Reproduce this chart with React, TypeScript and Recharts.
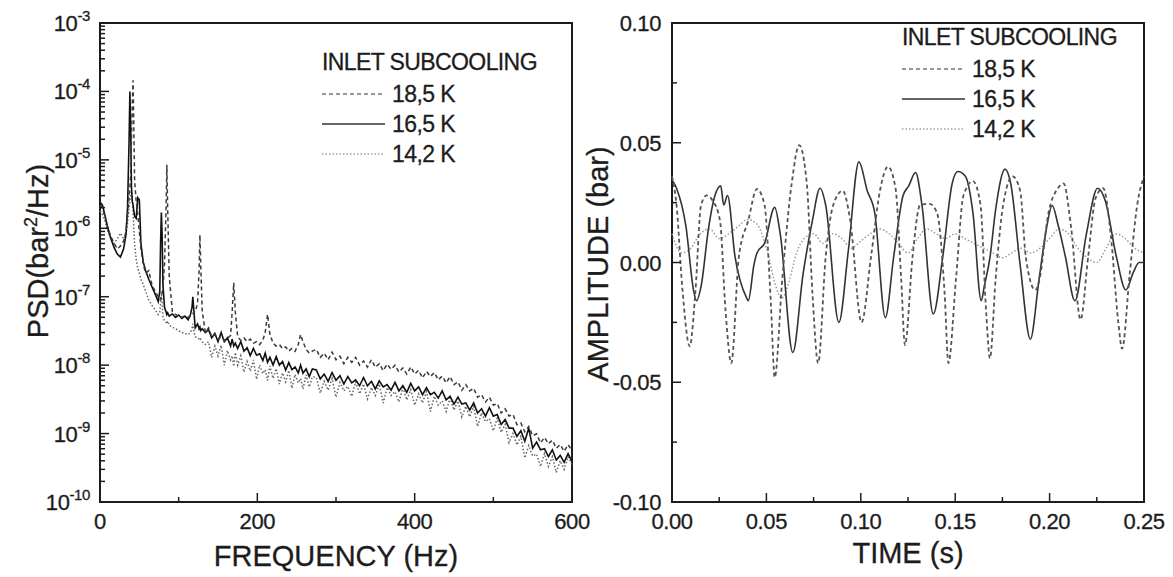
import { LineChart, Line, XAxis, YAxis, ReferenceArea } from 'recharts'

const FONT = '"Liberation Sans", Arial, Helvetica, sans-serif'
const INK = '#1c1c1c'
const TICK_GAP = 10

// ---------- left panel: power spectral density ----------
const psdFreq = [
  0, 3, 6, 10, 14, 18, 22, 26, 30, 33,
  35, 37, 38, 39, 40, 41, 42, 43, 44, 46,
  48, 50, 52, 55, 58, 62, 66, 70, 74, 76,
  77, 78, 79, 80, 82, 84, 85, 86, 88, 92,
  96, 100, 104, 108, 112, 115, 117, 118, 119, 121,
  124, 126, 127, 128, 130, 134,
  138, 142, 146, 150, 154, 158, 162, 166,
  168, 170, 172, 175,
  179, 183, 187, 191, 195, 199, 203, 207,
  210, 213, 216,
  220, 224, 228, 232, 236, 240, 244, 248, 252,
  255, 258, 262, 266, 270,
  275, 280, 285, 290, 295, 300, 305, 310, 315, 320,
  325, 330, 335, 340, 345, 350, 355, 360, 365, 370,
  375, 380, 385, 390, 395, 400, 405, 410, 415, 420,
  425, 430, 435, 440, 445, 450, 455, 460, 465, 470,
  475, 480, 485, 490, 495, 500, 505, 510, 515, 520,
  525, 530, 535, 540, 545, 550, 555, 560, 565, 570,
  575, 580, 585, 590, 595, 600,
]

// 18,5 K (dashed)
const psd185 = [
  2.2e-6, 2.0e-6, 1.5e-6, 1.0e-6, 7.5e-7, 6e-7, 5e-7, 5.5e-7, 6.5e-7, 9e-7,
  1.5e-6, 3e-6, 4e-6, 6e-6, 2e-5, 6e-5, 1.45e-4, 3e-5, 5e-6, 2.5e-6,
  1.6e-6, 9e-7, 5e-7, 3e-7, 2.2e-7, 2.4e-7, 1.5e-7, 1.2e-7, 1.0e-7, 9e-8,
  9e-8, 1.0e-7, 1.1e-7, 1.3e-7, 3e-7, 2e-6, 8.5e-6, 2e-6, 2e-7, 6e-8,
  5.5e-8, 5.2e-8, 5e-8, 5.3e-8, 5e-8, 5.2e-8, 5.5e-8, 5.5e-8, 6e-8, 6e-8,
  8e-8, 2.5e-7, 8e-7, 3e-7, 6e-8, 3e-8,
  3.5e-8, 2.6e-8, 2.8e-8, 2.4e-8, 2.6e-8, 2.3e-8, 2.5e-8, 2.7e-8,
  6e-8, 1.6e-7, 6e-8, 2.6e-8,
  2.3e-8, 2.5e-8, 2.2e-8, 2.4e-8, 2.1e-8, 2.2e-8, 2.0e-8, 2.3e-8,
  3.0e-8, 5.5e-8, 2.8e-8,
  2.1e-8, 1.9e-8, 2.0e-8, 1.75e-8, 1.85e-8, 1.6e-8, 1.75e-8, 1.6e-8, 2.0e-8,
  2.8e-8, 2.2e-8, 1.7e-8, 1.5e-8, 1.6e-8,
  1.7e-8, 1.3e-8, 1.5e-8, 1.2e-8, 1.55e-8, 1.2e-8, 1.35e-8, 1.05e-8, 1.3e-8, 1.1e-8,
  1.3e-8, 1.0e-8, 1.15e-8, 9.3e-9, 1.2e-8, 9.3e-9, 1.05e-8, 8.3e-9, 1.03e-8, 8.7e-9,
  1.0e-8, 7.9e-9, 9.1e-9, 7.4e-9, 9.4e-9, 7.4e-9, 8.4e-9, 6.5e-9, 8.1e-9, 6.8e-9,
  7.8e-9, 6.1e-9, 6.9e-9, 5.5e-9, 6.8e-9, 5.2e-9, 5.7e-9, 4.3e-9, 5.2e-9, 4.2e-9,
  4.6e-9, 3.4e-9, 3.7e-9, 2.9e-9, 3.4e-9, 2.6e-9, 2.75e-9, 2.0e-9, 2.3e-9, 1.8e-9,
  1.9e-9, 1.35e-9, 1.43e-9, 1.06e-9, 1.27e-9, 9.3e-10, 9.9e-10, 7.3e-10, 8.8e-10, 7.1e-10,
  8e-10, 6.1e-10, 6.9e-10, 5.5e-10, 6.9e-10, 5.6e-10,
]

// 16,5 K (solid)
const psd165 = [
  2.4e-6, 2.2e-6, 1.6e-6, 1.0e-6, 7e-7, 5.2e-7, 4.2e-7, 3.8e-7, 5e-7, 8e-7,
  2e-6, 2e-5, 1.0e-4, 3e-5, 4e-6, 2.5e-6, 2.2e-6, 1.8e-6, 1.5e-6, 1.4e-6,
  2.8e-6, 2.6e-6, 6e-7, 3.2e-7, 2.4e-7, 1.8e-7, 1.4e-7, 1.1e-7, 8.5e-8, 1.2e-7,
  6e-7, 1.7e-6, 8e-7, 1.5e-7, 7e-8, 6e-8, 5.5e-8, 5.8e-8, 5.2e-8, 5.6e-8,
  5e-8, 5.4e-8, 4.8e-8, 5.2e-8, 4.6e-8, 5.5e-8, 7e-8, 1.0e-7, 7e-8, 3.5e-8,
  4e-8, 3.4e-8, 3.6e-8, 3.2e-8, 3.4e-8, 3e-8,
  3.3e-8, 2.5e-8, 2.9e-8, 2.2e-8, 3.0e-8, 2.2e-8, 2.5e-8, 1.9e-8,
  2.4e-8, 1.9e-8, 2.1e-8, 1.75e-8,
  2.2e-8, 1.6e-8, 1.8e-8, 1.38e-8, 1.75e-8, 1.4e-8, 1.47e-8, 1.17e-8,
  1.5e-8, 1.1e-8, 1.3e-8,
  1.0e-8, 1.33e-8, 1.0e-8, 1.13e-8, 8.5e-9, 1.09e-8, 8.6e-9, 9.4e-9, 7.7e-9,
  1.0e-8, 7.6e-9, 8.8e-9, 6.8e-9, 8.8e-9,
  8.5e-9, 6.3e-9, 7.4e-9, 5.8e-9, 7.8e-9, 6.0e-9, 7.0e-9, 5.3e-9, 6.8e-9, 5.5e-9,
  6.1e-9, 5.0e-9, 6.6e-9, 5.0e-9, 5.8e-9, 4.5e-9, 5.9e-9, 4.8e-9, 5.2e-9, 4.3e-9,
  5.6e-9, 4.2e-9, 5.0e-9, 4.0e-9, 5.4e-9, 4.2e-9, 4.8e-9, 3.7e-9, 4.7e-9, 3.7e-9,
  4.0e-9, 3.3e-9, 4.2e-9, 3.1e-9, 3.5e-9, 2.7e-9, 3.4e-9, 2.7e-9, 2.8e-9, 2.2e-9,
  2.8e-9, 2.0e-9, 2.3e-9, 1.8e-9, 2.4e-9, 1.8e-9, 1.9e-9, 1.36e-9, 1.6e-9, 1.2e-9,
  1.2e-9, 9.1e-10, 1.1e-9, 7.7e-10, 1.2e-9, 6.1e-10, 7.5e-10, 5.8e-10, 6.0e-10, 4.6e-10,
  5.8e-10, 4.1e-10, 4.8e-10, 3.8e-10, 5.1e-10, 3.9e-10,
]

// 14,2 K (dotted)
const psd142 = [
  1.8e-6, 1.6e-6, 1.3e-6, 9e-7, 7e-7, 6e-7, 7e-7, 8.5e-7, 7e-7, 8e-7,
  1.2e-6, 2e-6, 2.5e-6, 3.2e-6, 3.5e-6, 2.8e-6, 1.8e-6, 1e-6, 6e-7, 3.5e-7,
  2.6e-7, 2.2e-7, 1.8e-7, 1.5e-7, 1.2e-7, 9e-8, 7.5e-8, 6.5e-8, 5.5e-8, 6e-8,
  8e-8, 1.2e-7, 8e-8, 5e-8, 4.5e-8, 4.2e-8, 4e-8, 4.4e-8, 3.8e-8, 3.6e-8,
  3.4e-8, 3.2e-8, 3e-8, 2.9e-8, 2.8e-8, 3e-8, 3.5e-8, 4e-8, 3.2e-8, 2.6e-8,
  2.5e-8, 2.4e-8, 2.3e-8, 2.4e-8, 2.2e-8, 2e-8,
  2.2e-8, 1.3e-8, 1.9e-8, 1.36e-8, 1.95e-8, 1.0e-8, 1.63e-8, 1.19e-8,
  1.37e-8, 9.6e-9, 1.53e-8, 1.0e-8,
  1.37e-8, 7.9e-9, 1.13e-8, 8.2e-9, 1.19e-8, 6.2e-9, 1.0e-8, 7.5e-9,
  8.6e-9, 6.0e-9, 9.7e-9,
  6.4e-9, 8.9e-9, 5.3e-9, 7.7e-9, 5.7e-9, 8.4e-9, 4.6e-9, 7.3e-9, 5.5e-9,
  6.4e-9, 4.5e-9, 7.2e-9, 4.8e-9, 6.8e-9,
  6.6e-9, 3.9e-9, 5.8e-9, 4.3e-9, 6.4e-9, 3.4e-9, 5.6e-9, 4.2e-9, 4.9e-9, 3.5e-9,
  5.7e-9, 3.8e-9, 5.3e-9, 3.2e-9, 4.7e-9, 3.6e-9, 5.3e-9, 2.8e-9, 4.7e-9, 3.6e-9,
  4.1e-9, 2.9e-9, 4.7e-9, 3.1e-9, 4.4e-9, 2.6e-9, 3.8e-9, 2.8e-9, 4.1e-9, 2.1e-9,
  3.5e-9, 2.6e-9, 3.0e-9, 2.1e-9, 3.3e-9, 2.2e-9, 3.0e-9, 1.75e-9, 2.5e-9, 1.76e-9,
  2.5e-9, 1.27e-9, 2.0e-9, 1.5e-9, 1.65e-9, 1.1e-9, 1.68e-9, 1.04e-9, 1.36e-9, 7.4e-10,
  1.0e-9, 6.8e-10, 9.1e-10, 4.4e-10, 6.7e-10, 4.7e-10, 5.0e-10, 3.3e-10, 5.1e-10, 3.3e-10,
  4.6e-10, 2.7e-10, 4.0e-10, 3.0e-10, 4.6e-10, 3.5e-10,
]

const psdDecades = [1e-10, 1e-9, 1e-8, 1e-7, 1e-6, 1e-5, 1e-4, 1e-3]
const psdMinor = [1, 2, 3, 4, 5, 6, 7, 8, 9]
const freqTicks = [0, 100, 200, 300, 400, 500, 600]
const freqLabels = [0, 200, 400, 600]

// ---------- right panel: pressure amplitude in time ----------
const t185 = [
  0, 0.0024, 0.0054, 0.0094, 0.0124, 0.0154, 0.0184, 0.0214, 0.0254, 0.0284,
  0.0314, 0.0354, 0.0404, 0.045, 0.049, 0.0524, 0.0544, 0.0584, 0.0634, 0.0674,
  0.0714, 0.0744, 0.0774, 0.0814, 0.0854, 0.0904, 0.0944, 0.1004, 0.1054, 0.1104,
  0.1144, 0.1184, 0.1214, 0.1234, 0.1274, 0.1314, 0.1364, 0.1404, 0.1444, 0.1464,
  0.1504, 0.1544, 0.1594, 0.1634, 0.1664, 0.1684, 0.1714, 0.1754, 0.1804, 0.1844,
  0.1874, 0.1924, 0.1944, 0.1994, 0.2044, 0.2074, 0.2114, 0.2164, 0.2204, 0.2244,
  0.2284, 0.2324, 0.2364, 0.2384, 0.2424, 0.2464, 0.25,
]
const a185 = [
  0.036, 0.024, -0.01, -0.035, -0.012, 0.024, 0.028, 0.026, 0.0176, -0.0207,
  -0.042, 0.0023, 0.0176, 0.0307, 0.024, -0.0176, -0.048, -0.007, 0.033, 0.049,
  0.033, -0.013, -0.042, 0.0023, 0.024, 0.03, 0.0176, -0.025, 0.0023, 0.031,
  0.04, 0.031, -0.007, -0.0345, 0.0023, 0.024, 0.0245, 0.0207, -0.013, -0.042,
  -0.007, 0.028, 0.034, 0.024, -0.0207, -0.04, -0.007, 0.024, 0.036, 0.03,
  0.0023, -0.0115, -0.008, 0.0207, 0.031, 0.033, 0.0146, -0.0238, 0.0023, 0.027,
  0.031, 0.0115, -0.025, -0.036, -0.005, 0.024, 0.036,
]

const t165 = [
  0, 0.0024, 0.0074, 0.0114, 0.013, 0.0154, 0.0194, 0.0224, 0.0258, 0.0274,
  0.0294, 0.0334, 0.0394, 0.0404, 0.0434, 0.045, 0.049, 0.0544, 0.0574, 0.064,
  0.0694, 0.0744, 0.0784, 0.0814, 0.0884, 0.0934, 0.099, 0.1034, 0.1074, 0.113,
  0.1174, 0.1224, 0.1254, 0.129, 0.1324, 0.1384, 0.1434, 0.1484, 0.1514, 0.1554,
  0.1594, 0.1638, 0.1654, 0.1684, 0.1714, 0.1764, 0.1794, 0.1844, 0.1898, 0.1944,
  0.1984, 0.2014, 0.2044, 0.2084, 0.2134, 0.2194, 0.2254, 0.2294, 0.2354, 0.2404,
  0.2444, 0.2474, 0.25,
]
const a165 = [
  0.0345, 0.031, 0.015, -0.0115, -0.016, -0.01, 0.0146, 0.027, 0.032, 0.024,
  0.028, 0.0023, -0.0146, -0.016, -0.001, 0.004, 0.008, 0.023, 0.0115, -0.0376,
  -0.005, 0.0176, 0.031, 0.024, -0.025, 0.005, 0.042, 0.03, 0.0207, -0.023,
  0.0023, 0.028, 0.032, 0.0376, 0.024, -0.0215, 0.0023, 0.033, 0.038, 0.036,
  0.0207, -0.016, -0.01, 0.002, 0.022, 0.039, 0.033, -0.001, -0.032, -0.007,
  0.0146, 0.0238, 0.016, 0.0023, -0.016, 0.0115, 0.031, 0.026, 0.0023, -0.0115,
  -0.004, 0, 0,
]

const t142 = [
  0, 0.005, 0.01, 0.015, 0.02, 0.025, 0.03, 0.035, 0.04, 0.045,
  0.05, 0.055, 0.058, 0.062, 0.066, 0.07, 0.075, 0.08, 0.085, 0.09,
  0.095, 0.1, 0.105, 0.11, 0.115, 0.12, 0.125, 0.13, 0.135, 0.14,
  0.145, 0.15, 0.155, 0.16, 0.165, 0.17, 0.175, 0.18, 0.185, 0.19,
  0.195, 0.2, 0.205, 0.21, 0.215, 0.22, 0.225, 0.23, 0.235, 0.24,
  0.245, 0.25,
]
const a142 = [
  0.012, 0.004, 0.006, 0.012, 0.014, 0.01, 0.012, 0.015, 0.018, 0.016,
  0.006, -0.01, -0.015, -0.008, 0.004, 0.01, 0.012, 0.008, 0.012, 0.01,
  0.006, 0.009, 0.012, 0.014, 0.012, 0.008, 0.004, 0.01, 0.014, 0.012,
  0.01, 0.012, 0.01, 0.008, 0.006, 0.004, 0.002, 0.004, 0.006, 0.004,
  0.006, 0.01, 0.014, 0.012, 0.006, 0.002, 0, 0.006, 0.012, 0.01,
  0.006, 0.004,
]

const timeTicks = [0, 0.025, 0.05, 0.075, 0.1, 0.125, 0.15, 0.175, 0.2, 0.225, 0.25]
const timeLabels = [0, 0.05, 0.1, 0.15, 0.2, 0.25]
const ampTicks = [-0.1, -0.075, -0.05, -0.025, 0, 0.025, 0.05, 0.075, 0.1]
const ampLabels = [-0.1, -0.05, 0, 0.05, 0.1]

const legendTitle = 'INLET SUBCOOLING'
const legendLabels = ['18,5 K', '16,5 K', '14,2 K']

// ---------- built tables ----------
const psdData = psdFreq.map((f, i) => ({ f, s185: psd185[i], s165: psd165[i], s142: psd142[i] }))
const psdTicks = psdDecades.flatMap((d, i) => (i === psdDecades.length - 1 ? [d] : psdMinor.map((m) => d * m)))
const zip = (ts: number[], vs: number[]) => ts.map((t, i) => ({ t, v: vs[i] }))
const amp185 = zip(t185, a185)
const amp165 = zip(t165, a165)
const amp142 = zip(t142, a142)

const near = (list: number[], v: number) => list.some((l) => Math.abs(l - v) < 1e-9)

const LEFT_STYLES = [
  { key: 's185', stroke: '#3a3a3a', dash: '4 3', width: 1.5 },
  { key: 's165', stroke: '#111111', dash: undefined, width: 1.6 },
  { key: 's142', stroke: '#666666', dash: '1.5 2', width: 1.5 },
]
const RIGHT_STYLES = [
  { data: amp185, stroke: '#555555', dash: '4 3', width: 1.8 },
  { data: amp165, stroke: '#333333', dash: undefined, width: 1.6 },
  { data: amp142, stroke: '#9a9a9a', dash: '1.5 2', width: 1.5 },
]
const LEGEND_SAMPLES = [
  { stroke: '#777777', dash: '4 3' },
  { stroke: '#333333', dash: undefined },
  { stroke: '#a0a0a0', dash: '1.5 2' },
]

const labelText = { fontFamily: FONT, fontSize: 22, fill: INK, stroke: INK, strokeWidth: 0.3, letterSpacing: -0.4 }

function LogYTick({ x, y, payload }: any) {
  const v = payload.value
  const exp = Math.round(Math.log10(v))
  const major = Math.abs(v / Math.pow(10, exp) - 1) < 1e-6
  const ax = x + TICK_GAP
  return (
    <g>
      <line x1={ax} x2={ax + (major ? 9 : 5)} y1={y} y2={y} stroke={INK} strokeWidth={1.5} />
      {major && (
        <text x={x} y={y + 8} textAnchor="end" {...labelText}>
          <tspan>10</tspan>
          <tspan dy={-10} fontSize={15}>{exp}</tspan>
        </text>
      )}
    </g>
  )
}

function makeYTick(labels: number[]) {
  return function YTick({ x, y, payload }: any) {
    const v = payload.value
    const major = near(labels, v)
    const ax = x + TICK_GAP
    return (
      <g>
        <line x1={ax} x2={ax + (major ? 9 : 5)} y1={y} y2={y} stroke={INK} strokeWidth={1.5} />
        {major && (
          <text x={x - 1} y={y + 8} textAnchor="end" {...labelText}>
            {v.toFixed(2)}
          </text>
        )}
      </g>
    )
  }
}

function makeXTick(labels: number[], fmt: (v: number) => string) {
  return function XTick({ x, y, payload }: any) {
    const v = payload.value
    const major = near(labels, v)
    const ay = y - TICK_GAP
    return (
      <g>
        <line x1={x} x2={x} y1={ay} y2={ay - (major ? 9 : 5)} stroke={INK} strokeWidth={1.5} />
        {major && (
          <text x={x} y={ay + 27} textAnchor="middle" {...labelText}>
            {fmt(v)}
          </text>
        )}
      </g>
    )
  }
}

const FreqTick = makeXTick(freqLabels, (v) => String(v))
const TimeTick = makeXTick(timeLabels, (v) => v.toFixed(2))
const AmpTick = makeYTick(ampLabels)

const titleStyle = { fontFamily: FONT, fontSize: 29, fill: INK, stroke: INK, strokeWidth: 0.3 }

function Legend({ left, top }: { left: number; top: number }) {
  return (
    <div style={{ position: 'absolute', left, top, fontFamily: FONT, fontSize: 23, color: INK, letterSpacing: -0.6, WebkitTextStroke: '0.3px #1c1c1c' }}>
      <div style={{ height: 30, lineHeight: '30px', whiteSpace: 'nowrap' }}>{legendTitle}</div>
      {legendLabels.map((label, i) => (
        <div
          key={label}
          style={{ position: 'absolute', top: 32 + i * 30, left: 0, height: 30, display: 'flex', alignItems: 'center', whiteSpace: 'nowrap' }}
        >
          <svg width={63} height={30} style={{ display: 'block' }}>
            <line x1={0} x2={63} y1={15} y2={15} stroke={LEGEND_SAMPLES[i].stroke} strokeWidth={1.6} strokeDasharray={LEGEND_SAMPLES[i].dash} />
          </svg>
          <span style={{ marginLeft: 7, lineHeight: '30px' }}>{label}</span>
        </div>
      ))}
    </div>
  )
}

function PsdPanel() {
  return (
    <LineChart width={590} height={577} data={psdData} margin={{ top: 23, right: 18, bottom: 0, left: 0 }}>
      <XAxis
        dataKey="f"
        type="number"
        domain={[0, 600]}
        ticks={freqTicks}
        interval={0}
        tick={FreqTick}
        tickLine={false}
        tickSize={0}
        tickMargin={TICK_GAP}
        axisLine={false}
        height={75}
        label={() => (
          <text x={336} y={566} textAnchor="middle" {...titleStyle}>
            FREQUENCY (Hz)
          </text>
        )}
      />
      <YAxis
        type="number"
        scale="log"
        domain={[1e-10, 1e-3]}
        allowDataOverflow
        ticks={psdTicks}
        interval={0}
        tick={LogYTick}
        tickLine={false}
        tickSize={0}
        tickMargin={TICK_GAP}
        axisLine={false}
        width={100}
        label={() => (
          <text transform="translate(48,251) rotate(-90)" textAnchor="middle" {...titleStyle}>
            PSD(bar
            <tspan dy={-11} fontSize={18}>2</tspan>
            <tspan dy={11}>/Hz)</tspan>
          </text>
        )}
      />
      <ReferenceArea x1={0} x2={600} y1={1e-10} y2={1e-3} fill="none" stroke={INK} strokeWidth={2} />
      {LEFT_STYLES.slice().reverse().map((s) => (
        <Line
          key={s.key}
          dataKey={s.key}
          type="linear"
          stroke={s.stroke}
          strokeWidth={s.width}
          strokeDasharray={s.dash}
          dot={false}
          activeDot={false}
          isAnimationActive={false}
        />
      ))}
    </LineChart>
  )
}

function AmplitudePanel() {
  return (
    <LineChart width={593} height={577} margin={{ top: 23, right: 29, bottom: 0, left: 0 }}>
      <XAxis
        dataKey="t"
        type="number"
        domain={[0, 0.25]}
        ticks={timeTicks}
        interval={0}
        tick={TimeTick}
        tickLine={false}
        tickSize={0}
        tickMargin={TICK_GAP}
        axisLine={false}
        height={75}
        allowDuplicatedCategory={false}
        label={() => (
          <text x={328} y={563} textAnchor="middle" {...titleStyle}>
            TIME (s)
          </text>
        )}
      />
      <YAxis
        type="number"
        domain={[-0.1, 0.1]}
        allowDataOverflow
        ticks={ampTicks}
        interval={0}
        tick={AmpTick}
        tickLine={false}
        tickSize={0}
        tickMargin={TICK_GAP}
        axisLine={false}
        width={92}
        label={() => (
          <text transform="translate(28,264) rotate(-90)" textAnchor="middle" {...titleStyle}>
            AMPLITUDE (bar)
          </text>
        )}
      />
      <ReferenceArea x1={0} x2={0.25} y1={-0.1} y2={0.1} fill="none" stroke={INK} strokeWidth={2} />
      {RIGHT_STYLES.slice().reverse().map((s, i) => (
        <Line
          key={i}
          data={s.data}
          dataKey="v"
          type="monotone"
          stroke={s.stroke}
          strokeWidth={s.width}
          strokeDasharray={s.dash}
          dot={false}
          activeDot={false}
          isAnimationActive={false}
        />
      ))}
    </LineChart>
  )
}

export default function App() {
  return (
    <div style={{ position: 'absolute', left: 0, top: 0, width: 1173, height: 577, background: '#fff', overflow: 'hidden' }}>
      <div style={{ position: 'absolute', left: 0, top: 0 }}>
        <PsdPanel />
      </div>
      <div style={{ position: 'absolute', left: 580, top: 0 }}>
        <AmplitudePanel />
      </div>
      <Legend left={322} top={47} />
      <Legend left={902} top={22} />
    </div>
  )
}
